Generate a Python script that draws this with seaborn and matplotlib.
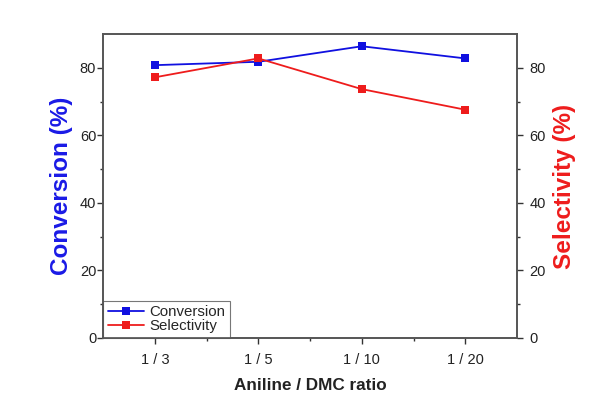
import numpy as np
import pandas as pd
import matplotlib
matplotlib.use("Agg")
import matplotlib.pyplot as plt
import seaborn as sns
from matplotlib.ticker import MultipleLocator, FixedLocator

ratios = ['1 / 3', '1 / 5', '1 / 10', '1 / 20']
conversion = [80.8, 81.8, 86.4, 82.8]
selectivity = [77.2, 82.8, 73.7, 67.6]

sns.set_style("ticks")
plt.rcParams['font.family'] = ['Liberation Sans', 'DejaVu Sans']

df = pd.DataFrame({'ratio': ratios, 'pos': np.arange(len(ratios)),
                   'Conversion': conversion, 'Selectivity': selectivity})

fig, ax = plt.subplots(figsize=(6.14, 4.11), dpi=100)
fig.subplots_adjust(left=0.168, right=0.842, top=0.917, bottom=0.178)
ax2 = ax.twinx()

sns.lineplot(data=df, x='pos', y='Conversion', ax=ax, color='#1010e0', marker='s',
             markersize=6, markeredgewidth=0, linewidth=1.3, label='Conversion', legend=False)
sns.lineplot(data=df, x='pos', y='Selectivity', ax=ax2, color='#ee1c1c', marker='s',
             markersize=6, markeredgewidth=0, linewidth=1.3, label='Selectivity', legend=False)

for a in (ax, ax2):
    a.set_ylim(0, 90)
    a.yaxis.set_major_locator(MultipleLocator(20))
    a.yaxis.set_minor_locator(FixedLocator([10, 30, 50, 70]))
    a.tick_params(axis='both', which='major', direction='out', length=4, width=1,
                  labelsize=10.5, colors='#333333', labelcolor='#222222')
    a.tick_params(axis='both', which='minor', direction='out', length=2.5, width=1, colors='#333333')
    for s in a.spines.values():
        s.set_color('#555555')
        s.set_linewidth(1.2)

ax.set_xlim(-0.5, 3.5)
ax.set_xticks(df['pos'])
ax.set_xticklabels(ratios)
ax.xaxis.set_minor_locator(FixedLocator([0.5, 1.5, 2.5]))
ax.tick_params(axis='x', pad=7)
ax.tick_params(axis='y', pad=1)
ax2.tick_params(axis='y', pad=5)

ax.set_xlabel('Aniline / DMC ratio', fontsize=12.3, fontweight='bold', color='#222222', labelpad=8)
ax.set_ylabel('Conversion (%)', fontsize=17.5, fontweight='bold', color='#1a1ae6', labelpad=5)
ax2.set_ylabel('Selectivity (%)', fontsize=17.5, fontweight='bold', color='#ee1c1c', labelpad=5)

h1, l1 = ax.get_legend_handles_labels()
h2, l2 = ax2.get_legend_handles_labels()
leg = ax.legend(h1 + h2, l1 + l2, loc='lower left', fontsize=10.8, frameon=True, fancybox=False,
                borderaxespad=0, handlelength=2.4, handletextpad=0.4, borderpad=0.3,
                labelspacing=0.0)
leg.get_frame().set_edgecolor('#555555')
leg.get_frame().set_linewidth(0.8)

fig.savefig('out.png', dpi=100)
